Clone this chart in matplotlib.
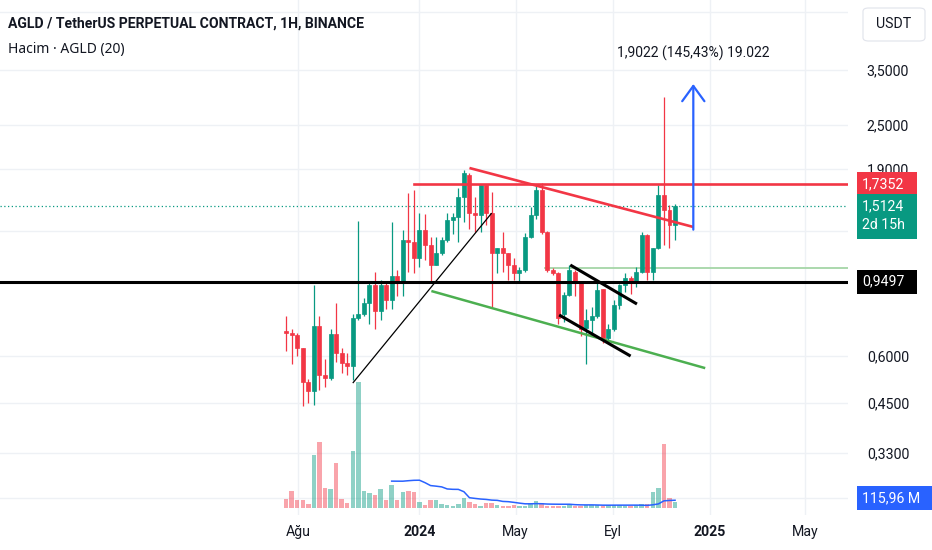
import matplotlib
matplotlib.use('Agg')
import matplotlib.pyplot as plt
import matplotlib.dates as mdates
from matplotlib.patches import Rectangle, FancyBboxPatch, FancyArrowPatch
from matplotlib.ticker import NullLocator
import numpy as np
import pandas as pd

# ── colours ──
GREEN = '#089981'; RED = '#F23645'; BLUE = '#2962FF'
TEXT = '#131722'; GRID = '#EEF1F5'; LIGHT_GREEN = '#A5D6A7'

plt.rcParams['font.family'] = ['Roboto', 'DejaVu Sans']

# ── data: weekly candles ──
dates = pd.date_range('2023-07-17', periods=71, freq='7D')
opens = [0.70, 0.69, 0.685, 0.63, 0.51, 0.485, 0.72, 0.534, 0.525, 0.687,
         0.61, 0.576, 0.566, 0.76, 0.78, 0.83, 0.93, 0.79, 0.93, 0.85,
         0.98, 0.945, 1.227, 1.21, 1.10, 1.305, 1.19, 1.05, 1.13, 1.227,
         1.39, 1.41, 1.60, 1.83, 1.45, 1.43, 1.72, 1.45, 1.13, 1.17,
         1.13, 1.05, 1.00, 1.02, 1.25, 1.43, 1.67, 1.29, 1.02, 1.00,
         0.78, 0.875, 1.01, 0.95, 0.715, 0.75, 0.77, 0.905, 0.67, 0.71,
         0.82, 0.93, 0.97, 0.945, 1.01, 1.265, 1.01, 1.17, 1.62, 1.48, 1.35]
highs = [0.77, 0.71, 0.69, 0.63, 0.52, 0.93, 0.77, 0.59, 0.71, 0.83,
         0.63, 0.61, 0.78, 1.38, 0.86, 0.94, 1.01, 0.96, 0.95, 1.37,
         1.02, 1.305, 1.64, 1.67, 1.45, 1.44, 1.25, 1.25, 1.25, 1.45,
         1.45, 1.69, 1.89, 1.86, 1.60, 1.72, 1.72, 1.65, 1.17, 1.29,
         1.13, 1.10, 1.04, 1.28, 1.50, 1.72, 1.74, 1.30, 1.03, 1.01,
         0.89, 1.05, 1.02, 0.95, 0.80, 0.81, 0.96, 0.91, 0.73, 0.85,
         0.935, 1.00, 0.98, 1.04, 1.29, 1.27, 1.17, 1.72, 2.97, 1.52, 1.53]
lows = [0.62, 0.57, 0.60, 0.44, 0.45, 0.443, 0.487, 0.496, 0.518, 0.58,
        0.54, 0.534, 0.518, 0.75, 0.77, 0.73, 0.71, 0.75, 0.80, 0.80,
        0.87, 0.87, 1.01, 1.00, 1.04, 1.085, 0.945, 1.05, 1.12, 1.21,
        1.27, 1.21, 1.37, 1.31, 1.29, 1.29, 1.35, 0.81, 1.00, 1.01,
        0.96, 0.96, 0.945, 1.01, 1.24, 1.40, 1.27, 1.01, 0.99, 0.73,
        0.74, 0.87, 0.87, 0.68, 0.57, 0.69, 0.76, 0.65, 0.65, 0.70,
        0.80, 0.89, 0.88, 0.92, 1.00, 0.96, 0.96, 1.16, 1.19, 1.17, 1.23]
closes = [0.69, 0.685, 0.63, 0.51, 0.485, 0.72, 0.534, 0.525, 0.687, 0.61,
          0.576, 0.566, 0.76, 0.78, 0.83, 0.93, 0.79, 0.93, 0.85, 0.98,
          0.945, 1.227, 1.21, 1.10, 1.305, 1.19, 1.05, 1.13, 1.227, 1.39,
          1.41, 1.60, 1.85, 1.45, 1.43, 1.72, 1.45, 1.13, 1.17, 1.13,
          1.05, 1.00, 1.02, 1.25, 1.43, 1.67, 1.29, 1.02, 1.00, 0.76,
          0.875, 1.02, 0.95, 0.71, 0.75, 0.77, 0.90, 0.67, 0.71, 0.82,
          0.93, 0.97, 0.945, 1.01, 1.265, 1.01, 1.17, 1.62, 1.48, 1.35, 1.5124]
# volume in millions
volumes = [112, 215, 99, 99, 47, 679, 847, 262, 241, 576,
           120, 65, 731, 1625, 224, 189, 163, 245, 99, 301,
           99, 211, 224, 202, 73, 43, 99, 108, 56, 43,
           26, 47, 129, 77, 47, 26, 65, 65, 39, 26,
           30, 34, 26, 30, 69, 95, 65, 30, 26, 26,
           22, 47, 22, 22, 34, 34, 34, 26, 34, 34,
           34, 30, 30, 34, 52, 47, 211, 258, 821, 129, 73]

# ── drawings (date, price) ──
res_level = 1.7352
sup_level = 0.9497
mid_level = 1.035
last_price = 1.5124
res_start = '2023-12-25'
mid_start = '2024-06-07'
red_trend = (['2024-03-04', '2024-12-11'], [1.913, 1.33])
black_diag = (['2023-10-09', '2024-04-01'], [0.508, 1.449])
green_trend = (['2024-01-16', '2024-12-26'], [0.896, 0.557])
flag_top = (['2024-07-09', '2024-10-01'], [1.052, 0.827])
flag_bot = (['2024-06-25', '2024-09-23'], [0.773, 0.600])
arrow_date = '2024-12-11'
arrow_from, arrow_to = 1.308, 3.2102

# grid levels; the ones hidden behind the scale tags get no label
price_ticks = [5.0, 3.5, 2.5, 1.9, 1.3, 0.95, 0.6, 0.45, 0.33, 0.25]
hidden_ticks = [5.0, 1.3, 0.95, 0.25]
time_ticks = ['2023-08-01', '2024-01-01', '2024-05-01', '2024-09-01', '2025-01-01', '2025-05-01']
time_labels = ['Ağu', '2024', 'May', 'Eyl', '2025', 'May']

W, H = 932, 550
fig = plt.figure(figsize=(W / 100, H / 100), dpi=100)
fig.patch.set_facecolor('white')
ax = fig.add_axes([0, 35 / H, 848 / W, 515 / H])
ax.set_yscale('log')
ax.set_ylim(0.2252, 5.39)
ref = mdates.date2num(pd.Timestamp('2023-08-01'))
ppd = 0.7938
ax.set_xlim(ref - 298 / ppd, ref + 550 / ppd)

dn = lambda s: mdates.date2num(pd.to_datetime(s))

x = mdates.date2num(dates)
o, h, l, c = map(np.array, (opens, highs, lows, closes))
cols = np.where(c >= o, GREEN, RED)

# volume (overlay, own scale)
axv = ax.twinx()
axv.set_ylim(-90, 6553)
axv.bar(x, volumes, width=5.6, color=cols, alpha=0.45, linewidth=0, zorder=1)
ma = pd.Series(volumes, dtype=float).rolling(20).mean()
axv.plot(x, ma, color=BLUE, lw=1.1, zorder=2)
axv.set_yticks([])
for s in axv.spines.values():
    s.set_visible(False)

# grid / axes
ax.set_yticks(price_ticks)
ax.yaxis.set_minor_locator(NullLocator())
ax.set_yticklabels(['' if v in hidden_ticks else f'{v:.4f}'.replace('.', ',') for v in price_ticks])
ax.yaxis.tick_right()
ax.tick_params(axis='y', length=0, pad=13.5, labelsize=10.2, labelcolor=TEXT)
ax.set_xticks([dn(t) for t in time_ticks])
ax.set_xticklabels(time_labels)
ax.tick_params(axis='x', length=0, pad=7, labelsize=10.2, labelcolor=TEXT)
for lbl, t in zip(ax.get_xticklabels(), time_labels):
    if t.isdigit():
        lbl.set_fontweight('bold')
ax.grid(True, color=GRID, lw=1, zorder=0)
ax.set_axisbelow(True)
for s in ax.spines.values():
    s.set_visible(False)

# candles
ax.vlines(x, l, h, colors=cols, lw=0.9, zorder=3)
ax.bar(x, np.abs(c - o), bottom=np.minimum(o, c), width=5.0, color=cols,
       edgecolor=cols, linewidth=0.5, zorder=4)

# levels
xr = ax.get_xlim()[1] + 30
ax.axhline(last_price, color=GREEN, lw=0.9, ls=(0, (1, 2)), zorder=2)
ax.axhline(sup_level, color='black', lw=2.2, zorder=5)
ax.plot([dn(res_start), xr], [res_level] * 2, color=RED, lw=1.9, zorder=5)
ax.plot([dn(mid_start), xr], [mid_level] * 2, color=LIGHT_GREEN, lw=1.3, zorder=2)

for (ds, ps), col, lw in [(red_trend, RED, 1.9), (black_diag, 'black', 0.9),
                          (green_trend, '#4CAF50', 1.8), (flag_top, 'black', 2.2),
                          (flag_bot, 'black', 2.2)]:
    ax.plot([dn(d) for d in ds], ps, color=col, lw=lw, zorder=5, solid_capstyle='butt')

ax.add_patch(FancyArrowPatch((dn(arrow_date), arrow_from), (dn(arrow_date), arrow_to),
                             arrowstyle='->,head_length=11,head_width=8',
                             color=BLUE, lw=1.6, zorder=6, shrinkA=0, shrinkB=0))
ax.annotate('1,9022 (145,43%) 19.022', (dn(arrow_date), arrow_to), xytext=(0, 31),
            textcoords='offset pixels', ha='center', va='center', fontsize=10, color=TEXT)

# header
fig.text(8 / W, 1 - 24 / H, 'AGLD / TetherUS PERPETUAL CONTRACT, 1H, BINANCE',
         fontsize=10.1, fontweight='bold', color=TEXT, va='center', family=['Roboto', 'DejaVu Sans'])
fig.text(8 / W, 1 - 49 / H, 'Hacim · AGLD (20)', fontsize=10, color=TEXT, va='center',
         family=['Noto Sans', 'DejaVu Sans'])


# price-scale tags
def tag(yc, lines, color, x0=857, x1=917, above=12, below=12):
    top = yc + above
    bot = yc - below
    fig.add_artist(Rectangle((x0 / W, bot / H), (x1 - x0) / W, (top - bot) / H,
                             transform=fig.transFigure, facecolor=color, edgecolor='none', zorder=5))
    for i, t in enumerate(lines):
        fig.text((x0 + 5) / W, (yc - i * 19) / H, t, color='white', fontsize=10.2,
                 va='center', ha='left', zorder=6)


def py(p):
    return ax.transData.transform((0, p))[1]


tag(py(res_level), ['1,7352'], RED)
tag(py(last_price), ['1,5124', '2d 15h'], GREEN, below=33)
tag(py(sup_level), ['0,9497'], 'black')
tag(axv.transData.transform((0, ma.iloc[-1]))[1] + 2, ['115,96 M'], BLUE, x1=932)

fig.add_artist(FancyBboxPatch((863 / W, (H - 41) / H), 62 / W, 33 / H,
                              boxstyle='round,pad=0,rounding_size=0.006',
                              transform=fig.transFigure, facecolor='white',
                              edgecolor='#E0E3EB', lw=0.8, zorder=5))
fig.text(894 / W, 1 - 24.5 / H, 'USDT', fontsize=10.2, color=TEXT, ha='center', va='center', zorder=6)

fig.savefig('out.png', dpi=100, facecolor='white')
